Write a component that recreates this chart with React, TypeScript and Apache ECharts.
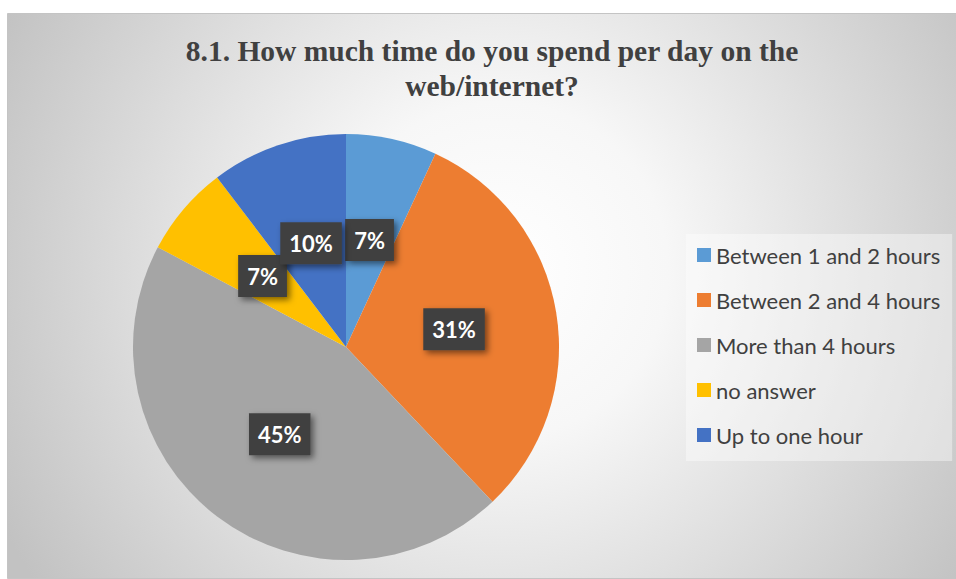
import React, { useEffect, useRef } from 'react';
import * as echarts from 'echarts';

const titleLines = ['8.1. How much time do you spend per day on the', 'web/internet?'];
const categories = ['Between 1 and 2 hours', 'Between 2 and 4 hours', 'More than 4 hours', 'no answer', 'Up to one hour'];
const counts = [4, 18, 26, 4, 6];
const colors = ['#5B9BD5', '#ED7D31', '#A5A5A5', '#FFC000', '#4472C4'];

export default function App() {
  const ref = useRef<HTMLDivElement>(null);
  useEffect(() => {
    const chart = echarts.init(ref.current!, null, { renderer: 'svg' });
    chart.setOption({
      animation: false,
      backgroundColor: '#ffffff',
      graphic: [
        {
          type: 'rect',
          z: -10,
          silent: true,
          shape: { x: 7.5, y: 13.5, width: 960, height: 565 },
          style: {
            fill: {
              type: 'radial',
              x: 500,
              y: 270,
              r: 560,
              global: true,
              colorStops: [
                { offset: 0, color: '#ffffff' },
                { offset: 0.3, color: '#f7f7f7' },
                { offset: 1, color: '#c2c2c2' },
              ],
            },
            stroke: '#c4c4c4',
            lineWidth: 1,
          },
        },
        {
          type: 'text',
          z: 10,
          x: 492,
          y: 33,
          style: {
            text: titleLines.join('\n'),
            textAlign: 'center',
            textVerticalAlign: 'top',
            fill: '#404040',
            font: 'bold 29.5px "Liberation Serif", "Times New Roman", serif',
            lineHeight: 35,
          },
        },
      ],
      legend: {
        orient: 'vertical',
        left: 686,
        top: 234,
        padding: [10, 12, 15, 11],
        backgroundColor: 'rgba(255,255,255,0.4)',
        itemWidth: 14,
        itemHeight: 14,
        itemGap: 23,
        icon: 'rect',
        data: categories,
        selectedMode: false,
        textStyle: {
          fontFamily: 'Lato',
          fontSize: 22,
          lineHeight: 20,
          color: '#404040',
        },
      },
      series: [
        {
          type: 'pie',
          center: [346, 347],
          radius: 213,
          startAngle: 90,
          clockwise: true,
          avoidLabelOverlap: false,
          labelLayout: { hideOverlap: false },
          emphasis: { disabled: true },
          data: categories.map((name, i) => ({
            name,
            value: counts[i],
            itemStyle: { color: colors[i] },
          })),
          label: {
            show: true,
            position: 'inside',
            formatter: (p: any) => Math.round(p.percent) + '%',
            color: '#ffffff',
            fontFamily: 'Lato',
            fontWeight: 'bold',
            fontSize: 22,
            lineHeight: 26,
            backgroundColor: '#404040',
            padding: [8, 9],
            shadowColor: 'rgba(0,0,0,0.5)',
            shadowBlur: 6,
            shadowOffsetX: 3,
            shadowOffsetY: 3,
          },
          labelLine: { show: false },
        },
      ],
    });
    return () => chart.dispose();
  }, []);
  return (
    <div
      ref={ref}
      style={{ position: 'fixed', left: 0, top: 0, width: 956, height: 579 }}
    />
  );
}
